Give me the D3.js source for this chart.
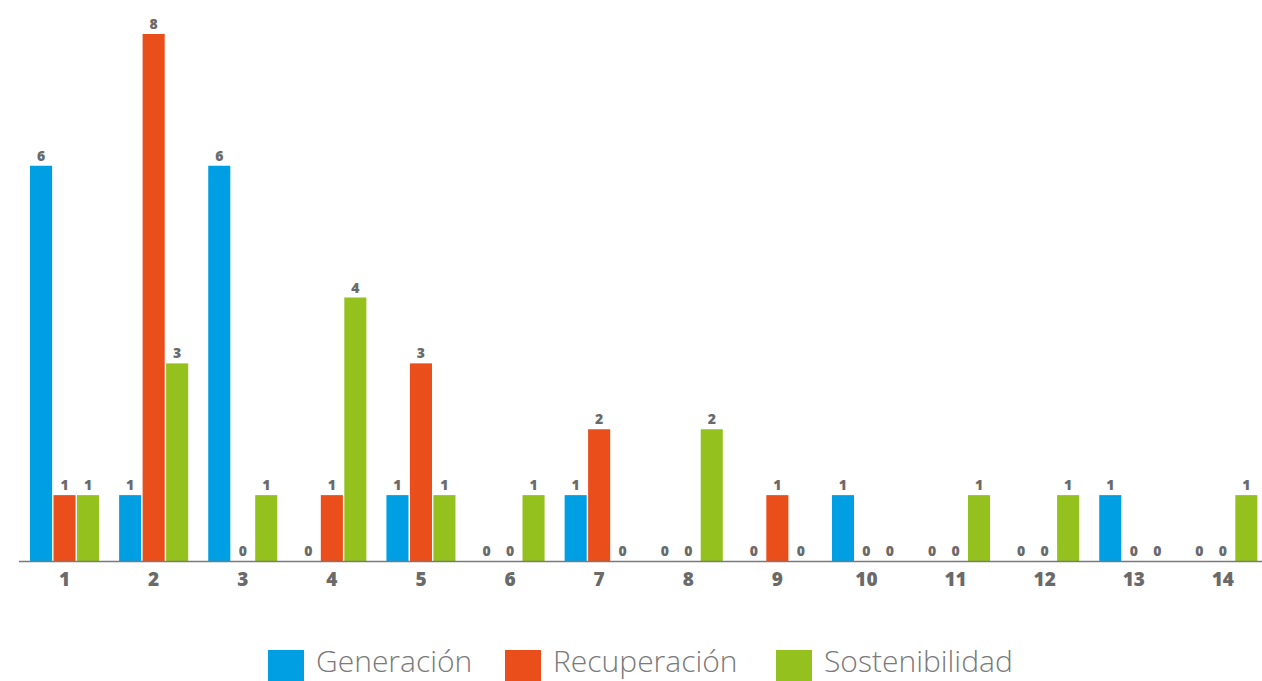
<!DOCTYPE html>
<html>
<head>
<meta charset="utf-8">
<script src="https://cdn.jsdelivr.net/npm/d3@7"></script>
<style>
  html, body { margin: 0; padding: 0; background: #fff; overflow: hidden; }
  svg { display: block; }
</style>
</head>
<body>
<svg id="chart" width="1262" height="681"></svg>
<script>
// Categories and series values
const categories = ["1","2","3","4","5","6","7","8","9","10","11","12","13","14"];
const seriesNames = ["Generación", "Recuperación", "Sostenibilidad"];
const generacion     = [6, 1, 6, 0, 1, 0, 1, 0, 0, 1, 0, 0, 1, 0];
const recuperacion   = [1, 8, 0, 1, 3, 0, 2, 0, 1, 0, 0, 0, 0, 0];
const sostenibilidad = [1, 3, 1, 4, 1, 1, 0, 2, 0, 0, 1, 1, 0, 1];
const colors = ["#009FE3", "#E94E1B", "#95C11F"];

const seriesValues = [generacion, recuperacion, sostenibilidad];
const rows = categories.map((c, i) => ({
  cat: c,
  values: seriesNames.map((s, k) => ({ key: s, value: seriesValues[k][i], color: colors[k] }))
}));

const svg = d3.select("#chart");
const baseY = 561;

const x0 = d3.scaleBand()
  .domain(categories)
  .range([20, 20 + 14 * 89.1])
  .paddingInner(0.225)
  .paddingOuter(0.1125);

const x1 = d3.scaleBand()
  .domain(seriesNames)
  .range([0, x0.bandwidth()])
  .paddingInner(0.06);

const y = d3.scaleLinear()
  .domain([0, 8])
  .range([baseY, 34]);

// Bars
const groups = svg.append("g")
  .selectAll("g")
  .data(rows)
  .join("g")
  .attr("transform", d => `translate(${x0(d.cat)},0)`);

groups.selectAll("rect")
  .data(d => d.values)
  .join("rect")
  .attr("x", d => x1(d.key))
  .attr("y", d => y(d.value))
  .attr("width", x1.bandwidth())
  .attr("height", d => y(0) - y(d.value))
  .attr("fill", d => d.color);

// Value labels above each bar
groups.selectAll("text")
  .data(d => d.values)
  .join("text")
  .attr("x", d => x1(d.key) + x1.bandwidth() / 2)
  .attr("y", d => y(d.value) - 5)
  .attr("text-anchor", "middle")
  .attr("font-family", "'Open Sans', sans-serif")
  .attr("font-weight", 800)
  .attr("font-size", 14)
  .attr("fill", "#6a6a6a")
  .text(d => d.value);

// X axis
const xAxis = svg.append("g")
  .attr("transform", `translate(0,${baseY})`)
  .call(d3.axisBottom(x0).tickSize(0).tickPadding(12));
xAxis.select(".domain").remove();
xAxis.selectAll("text")
  .attr("font-family", "'Open Sans', sans-serif")
  .attr("font-weight", 800)
  .attr("font-size", 19)
  .attr("fill", "#6a6a6a");

svg.append("line")
  .attr("x1", 19).attr("x2", 1262)
  .attr("y1", baseY + 0.5).attr("y2", baseY + 0.5)
  .attr("stroke", "#7a7a7a")
  .attr("stroke-width", 1.5);

// Legend
const legendX = [268, 505, 776];
const legend = svg.append("g")
  .selectAll("g")
  .data(seriesNames)
  .join("g")
  .attr("transform", (d, i) => `translate(${legendX[i]},650)`);

legend.append("rect")
  .attr("width", 36)
  .attr("height", 36)
  .attr("fill", (d, i) => colors[i]);

legend.append("text")
  .attr("x", 48)
  .attr("y", 22)
  .attr("font-family", "'Open Sans', sans-serif")
  .attr("font-weight", 300)
  .attr("font-size", 30)
  .attr("fill", "#7a7a7a")
  .text(d => d);
</script>
</body>
</html>
